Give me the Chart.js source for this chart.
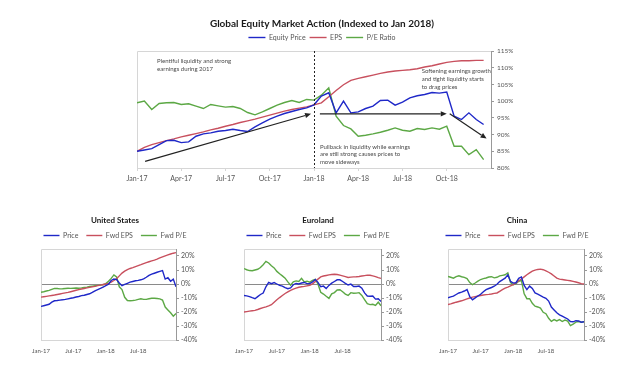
<!DOCTYPE html>
<html>
<head>
<meta charset="utf-8">
<script src="https://cdn.jsdelivr.net/npm/chart.js@4.4.0/dist/chart.umd.min.js"></script>
<style>
  html, body { margin: 0; padding: 0; background: #fff; }
  body { width: 642px; height: 368px; position: relative; overflow: hidden; }
  canvas { position: absolute; }
</style>
</head>
<body>
<canvas id="mainChart" width="642" height="195" style="left:0;top:0"></canvas>
<canvas id="usChart" width="214" height="173" style="left:0;top:195px"></canvas>
<canvas id="euChart" width="214" height="173" style="left:214px;top:195px"></canvas>
<canvas id="cnChart" width="214" height="173" style="left:428px;top:195px"></canvas>
<script>
// time axis in months since Jan-17 (two readings per month)
const mainMonths = Array.from({ length: 48 }, (_, i) => i / 2);
const smallMonths = Array.from({ length: 51 }, (_, i) => i / 2);

const mainTickMonths = [0, 3, 6, 9, 12, 15, 18, 21];
const mainTickLabels = ['Jan-17', 'Apr-17', 'Jul-17', 'Oct-17', 'Jan-18', 'Apr-18', 'Jul-18', 'Oct-18'];
const mainValueTicks = [80, 85, 90, 95, 100, 105, 110, 115];

const smallTickMonths = [0, 6, 12, 18];
const smallTickLabels = ['Jan-17', 'Jul-17', 'Jan-18', 'Jul-18'];
const smallValueTicks = [-40, -30, -20, -10, 0, 10, 20];

// global index (Jan 2018 = 100)
const mainPrice = [85.0, 85.4, 85.8, 87.0, 88.2, 88.3, 87.6, 87.8, 89.5, 90.2,
  90.5, 91.0, 91.2, 91.6, 91.2, 90.9, 92.3, 93.5, 94.6, 95.5,
  96.3, 96.9, 97.5, 98.0, 98.9, 101.5, 102.5, 96.5, 100.0, 96.5,
  96.8, 97.8, 98.5, 100.2, 100.3, 98.8, 99.7, 101.0, 101.6, 102.0,
  102.6, 102.4, 102.7, 95.5, 94.5, 96.5, 94.5, 93.0];
const mainEps = [85.0, 86.2, 87.0, 87.6, 88.2, 88.7, 89.3, 89.8, 90.3, 90.8,
  91.4, 91.9, 92.5, 93.0, 93.6, 94.1, 94.6, 95.2, 95.8, 96.4,
  97.0, 97.5, 97.9, 98.3, 98.9, 99.5, 101.3, 103.2, 104.9, 106.2,
  106.8, 107.3, 107.8, 108.3, 108.7, 109.0, 109.2, 109.4, 109.7, 110.2,
  110.6, 111.1, 111.6, 111.9, 112.1, 112.1, 112.2, 112.2];
const mainPE = [99.5, 100.0, 97.5, 99.3, 99.5, 99.6, 99.0, 99.2, 98.5, 97.8,
  99.0, 98.6, 98.2, 98.4, 97.8, 96.6, 95.9, 96.8, 97.8, 98.8,
  99.6, 100.2, 99.6, 100.5, 100.3, 101.8, 104.0, 95.5, 92.7, 91.7,
  89.5, 89.8, 90.2, 90.7, 91.3, 92.0, 91.3, 91.0, 91.8, 91.5,
  92.0, 91.6, 92.5, 86.5, 86.5, 84.0, 85.5, 82.5];

// regional panels, % change vs Jan 2018
const usPrice = [-16, -15.5, -15, -14.5, -13, -12, -11.8, -11.5, -11.3, -11,
  -10.6, -10.2, -9.8, -9.3, -8.9, -8.3, -8, -7.5, -7, -6,
  -4.9, -4, -3.2, -2.2, -1.2, -0.2, 2.5, 3.6, 3.2, 0.7,
  -1.2, -0.3, 0.5, 1.3, 1.8, 2.3, 2.6, 3, 3.6, 4.8,
  6.2, 7, 7.7, 8.4, 9, 9.6, 3.5, 4.5, 2, 3.5, -2];
const usEps = [-9.4, -9.1, -8.8, -8.5, -8.2, -7.9, -7.5, -7.1, -6.7, -6.3,
  -6, -5.5, -5, -4.5, -4, -3.6, -3.2, -2.8, -2.4, -2,
  -1.7, -1.2, -0.8, -0.4, 0, 0.4, 1.3, 2.5, 3.8, 5.8,
  7.8, 9.2, 10.3, 11.1, 11.7, 12.4, 13.1, 13.8, 14.6, 15.3,
  15.9, 16.5, 17.1, 17.8, 18.6, 19.4, 20.1, 20.8, 21.4, 22, 22.4];
const usPE = [-5.9, -5.5, -5, -4.6, -3.8, -3.1, -3.2, -3.5, -3.4, -3.2,
  -3, -3.1, -3, -2.9, -3, -2.8, -2.5, -2.2, -1.8, -1.5,
  -1.2, -1, -0.8, -0.5, 0.3, 2, 4, 6.5, 5, -2,
  -4, -9.5, -11.8, -12, -11.8, -11.5, -11, -10.5, -11, -11,
  -10.5, -10.2, -10.2, -10.4, -10.6, -11.5, -16.5, -18.5, -20.5, -23, -21];

const euPrice = [-8.2, -8.5, -9, -9.8, -10.5, -9, -7.5, -6.5, -2, 1.2,
  0.2, 1, 0, -1, -1.5, -2.6, -3.4, -2.8, -0.5, 0.4,
  0, 0.7, 1.1, 0.3, 0.3, 1.5, 3.3, 1.2, -2, -1.5,
  -3.2, -1, 0.6, 1.8, 3, 3, 1.8, 0.5, -0.7, -0.1,
  -1.8, -1.8, -1.5, -3, -6.4, -8.6, -8.8, -8.6, -10.8, -10.6, -12.5];
const euEps = [-20, -19.7, -19.4, -19.1, -18.8, -18.2, -17.5, -16.9, -16.3, -15.6,
  -14.8, -13, -11.3, -9.7, -8.2, -6.8, -5.6, -4.5, -3.6, -2.9,
  -2.3, -2, -1.7, -1.3, -0.9, 0, 1.7, 3.5, 5.1, 5.7,
  6.1, 6.5, 6.8, 7, 6.8, 6.3, 5.8, 5.3, 4.7, 4.9,
  5.1, 5.2, 5.4, 5.7, 6, 6.3, 6.2, 5.8, 5.3, 4.6, 4];
const euPE = [11, 10.2, 9.6, 9.5, 10, 10.5, 11.8, 13.8, 16.2, 15,
  13, 11.5, 9, 7.3, 5.8, 4.2, 1.5, -0.8, 1.5, 2.2,
  1.8, 4, 1.5, 2, 1.3, 2.5, 3.3, 0, -5.9, -7.2,
  -8.8, -10.3, -7, -6.1, -4.3, -4.1, -5.5, -7.2, -8.2, -6.2,
  -6.6, -6.5, -6.2, -8.2, -11.2, -14.1, -14.7, -14.5, -15.3, -13, -15.5];

const cnPrice = [-9.9, -9.2, -8.7, -7.5, -6.4, -5.8, -5, -4, -9, -11.3,
  -9.9, -8.6, -7.3, -5.5, -4, -3.2, -2.5, -1.6, -0.2, 1.7,
  3, 4.2, 6.5, 1.8, 0.7, 0.9, 4, 5, -1, -4,
  -1.5, -3.2, -6.4, -7.3, -8.3, -9.3, -10.2, -12.2, -16.5, -18.5,
  -20.5, -22, -23, -24, -25, -26.8, -27, -26.2, -26.4, -27.3, -27];
const cnEps = [-14.6, -14.2, -13.6, -13, -12.5, -12, -11.3, -10.6, -10, -9.4,
  -9, -8.6, -8.2, -7.9, -7.6, -7.4, -7.1, -6.7, -6.4, -5.2,
  -4, -3, -2.2, -1.3, -0.5, 0.8, 2.3, 3.6, 5.1, 6.6,
  7.9, 9.2, 9.9, 10.4, 10.6, 10.2, 9.4, 8.4, 7.2, 5.7,
  4.2, 3.5, 3.2, 2.9, 2.6, 2.3, 1.9, 1.4, 0.9, 0.3, 0];
const cnPE = [5.4, 4.8, 4.2, 5.3, 5.9, 5.2, 4.7, 3.8, 1, -0.5,
  0.7, 2, 3.2, 3.8, 4.3, 5, 5.2, 4.4, 4.8, 5.8,
  6.2, 6.6, 8, 1, -0.5, 0.3, 2, 2.5, -7, -10.5,
  -10.5, -13.8, -15.8, -16.4, -17.2, -20.2, -21.2, -24.5, -26.7, -25.4,
  -26.4, -25.4, -26.8, -25.8, -26.5, -29.7, -28.7, -27.2, -26.8, -27.3, -27];

const BLUE = '#1f28c8';
const RED = '#c8505e';
const GREEN = '#5ca845';
const FONT = 'Lato, "Open Sans", sans-serif';

// annotations on the big chart, in (month, index) coordinates
const mainNotes = {
  divider: 12,
  arrows: [
    { from: [0.55, 82.0], to: [11.8, 96.2] },
    { from: [12.4, 96.2], to: [21.0, 96.2] },
    { from: [21.2, 96.2], to: [23.7, 88.8] }
  ],
  texts: [
    { at: [1.36, 112.0], lines: ['Plentiful liquidity and strong', 'earnings during 2017'] },
    { at: [19.3, 108.9], lines: ['Softening earnings growth', 'and tight liquidity starts', 'to drag prices'] },
    { at: [12.4, 86.3], lines: ['Pullback in liquidity while earnings', 'are still strong causes prices to', 'move sideways'] }
  ]
};

const line = (label, data, color) => ({
  label: label,
  data: data,
  xAxisID: 'x',
  yAxisID: 'y',
  borderColor: color,
  backgroundColor: color,
  borderWidth: 1.4,
  pointRadius: 0,
  tension: 0
});

// empty left axis, only used to push the plot right so title/legend centre like the original
const spacer = width => ({
  position: 'left', min: 0, max: 1,
  ticks: { display: false },
  grid: { display: false, drawTicks: false },
  border: { display: false },
  afterFit: s => { s.width = width; }
});

// light grey left + top frame of the plot box
const framePlugin = {
  id: 'frame',
  beforeDatasetsDraw(chart) {
    const { ctx, chartArea: a } = chart;
    ctx.save();
    ctx.strokeStyle = '#d6d6d6';
    ctx.lineWidth = 1;
    ctx.beginPath();
    ctx.moveTo(Math.round(a.left) + 0.5, a.bottom);
    ctx.lineTo(Math.round(a.left) + 0.5, Math.round(a.top) + 0.5);
    ctx.lineTo(a.right, Math.round(a.top) + 0.5);
    ctx.stroke();
    ctx.restore();
  }
};

const notesPlugin = {
  id: 'notes',
  afterDatasetsDraw(chart, args, opts) {
    if (!opts.arrows) return;
    const { ctx, chartArea, scales: { x, y } } = chart;
    ctx.save();
    const dx = Math.round(x.getPixelForValue(opts.divider)) + 0.5;
    ctx.strokeStyle = '#222';
    ctx.lineWidth = 1;
    ctx.setLineDash([2, 2]);
    ctx.beginPath();
    ctx.moveTo(dx, chartArea.top);
    ctx.lineTo(dx, chartArea.bottom);
    ctx.stroke();
    ctx.setLineDash([]);

    ctx.fillStyle = '#222';
    ctx.lineWidth = 1.2;
    for (const a of opts.arrows) {
      const x1 = x.getPixelForValue(a.from[0]), y1 = y.getPixelForValue(a.from[1]);
      const x2 = x.getPixelForValue(a.to[0]), y2 = y.getPixelForValue(a.to[1]);
      const ang = Math.atan2(y2 - y1, x2 - x1);
      const hl = 6, hw = 2.6;
      const bx = x2 - Math.cos(ang) * hl, by = y2 - Math.sin(ang) * hl;
      ctx.beginPath();
      ctx.moveTo(x1, y1);
      ctx.lineTo(bx, by);
      ctx.stroke();
      ctx.beginPath();
      ctx.moveTo(x2, y2);
      ctx.lineTo(bx + Math.sin(ang) * hw, by - Math.cos(ang) * hw);
      ctx.lineTo(bx - Math.sin(ang) * hw, by + Math.cos(ang) * hw);
      ctx.closePath();
      ctx.fill();
    }

    ctx.fillStyle = '#4a4a4a';
    ctx.font = '6px ' + FONT;
    ctx.textBaseline = 'middle';
    ctx.textAlign = 'left';
    for (const t of opts.texts) {
      const tx = x.getPixelForValue(t.at[0]);
      const ty = y.getPixelForValue(t.at[1]);
      t.lines.forEach((s, i) => ctx.fillText(s, tx, ty + i * 7.6));
    }
    ctx.restore();
  }
};

new Chart(document.getElementById('mainChart'), {
  type: 'line',
  data: {
    labels: mainMonths,
    datasets: [line('Equity Price', mainPrice, BLUE), line('EPS', mainEps, RED), line('P/E Ratio', mainPE, GREEN)]
  },
  plugins: [framePlugin, notesPlugin],
  options: {
    responsive: false,
    animation: false,
    events: [],
    layout: { padding: { left: 131, right: 129, top: 0, bottom: 7 } },
    plugins: {
      title: {
        display: true,
        text: 'Global Equity Market Action (Indexed to Jan 2018)',
        color: '#1a1a1a',
        font: { family: FONT, size: 10, weight: 'bold', lineHeight: 1.2 },
        padding: { top: 18, bottom: 0 }
      },
      legend: {
        labels: {
          usePointStyle: true, pointStyle: 'line', pointStyleWidth: 17, boxWidth: 17,
          color: '#555', padding: 4, font: { family: FONT, size: 7 }
        }
      },
      tooltip: { enabled: false },
      notes: mainNotes
    },
    scales: {
      pad: spacer(6),
      x: {
        type: 'linear', min: 0, max: 24,
        afterBuildTicks: s => { s.ticks = mainTickMonths.map(v => ({ value: v })); },
        afterFit: s => { s.height = 20; },
        ticks: {
          callback: v => mainTickLabels[mainTickMonths.indexOf(v)],
          color: '#555', font: { family: FONT, size: 7 }, padding: 4, maxRotation: 0
        },
        grid: { drawOnChartArea: false, tickLength: 3, color: '#d6d6d6' },
        border: { color: '#d6d6d6' }
      },
      y: {
        position: 'right', min: 80, max: 115,
        afterBuildTicks: s => { s.ticks = mainValueTicks.map(v => ({ value: v })); },
        afterFit: s => { s.width = 22; },
        ticks: {
          callback: v => v + '%',
          color: '#555', font: { family: FONT, size: 6.5 }, padding: 3
        },
        grid: { drawOnChartArea: false, tickLength: 3, color: '#999' },
        border: { color: '#999' }
      }
    }
  }
});

// plot box of each small panel inside its 214px canvas
const panelBoxes = {
  usChart: { padLeft: 32, spacer: 9, plotRight: 176 },
  euChart: { padLeft: 19, spacer: 11, plotRight: 167 },
  cnChart: { padLeft: 0, spacer: 20, plotRight: 156 }
};

function smallChart(id, title, price, eps, pe) {
  const box = panelBoxes[id];
  const axisWidth = 22;
  new Chart(document.getElementById(id), {
    type: 'line',
    data: {
      labels: smallMonths,
      datasets: [line('Price', price, BLUE), line('Fwd EPS', eps, RED), line('Fwd P/E', pe, GREEN)]
    },
    plugins: [framePlugin],
    options: {
      responsive: false,
      animation: false,
      events: [],
      layout: { padding: { left: box.padLeft, right: 214 - box.plotRight - axisWidth, top: 0, bottom: 8 } },
      plugins: {
        title: {
          display: true,
          text: title,
          color: '#1a1a1a',
          font: { family: FONT, size: 8, weight: 'bold', lineHeight: 1 },
          padding: { top: 21, bottom: 0 }
        },
        legend: {
          labels: {
            usePointStyle: true, pointStyle: 'line', pointStyleWidth: 16, boxWidth: 16,
            color: '#555', padding: 8, font: { family: FONT, size: 7 }
          }
        },
        tooltip: { enabled: false }
      },
      scales: {
        pad: spacer(box.spacer),
        x: {
          type: 'linear', min: 0, max: 25,
          afterBuildTicks: s => { s.ticks = smallTickMonths.map(v => ({ value: v })); },
          afterFit: s => { s.height = 20; },
          ticks: {
            callback: v => smallTickLabels[smallTickMonths.indexOf(v)],
            color: '#555', font: { family: FONT, size: 6 }, padding: 7, maxRotation: 0
          },
          grid: { display: false, drawTicks: false },
          border: { color: '#d6d6d6' }
        },
        y: {
          position: 'right', min: -40, max: 25,
          afterBuildTicks: s => { s.ticks = smallValueTicks.map(v => ({ value: v })); },
          afterFit: s => { s.width = axisWidth; },
          ticks: {
            callback: v => v + '%',
            color: '#555', font: { family: FONT, size: 7 }, padding: 2
          },
          grid: {
            drawOnChartArea: true, tickLength: 3,
            color: c => (c.tick && c.tick.value === 0 ? '#8a8a8a' : 'rgba(0,0,0,0)'),
            tickColor: '#999'
          },
          border: { color: '#999' }
        }
      }
    }
  });
}

smallChart('usChart', 'United States', usPrice, usEps, usPE);
smallChart('euChart', 'Euroland', euPrice, euEps, euPE);
smallChart('cnChart', 'China', cnPrice, cnEps, cnPE);
</script>
</body>
</html>
